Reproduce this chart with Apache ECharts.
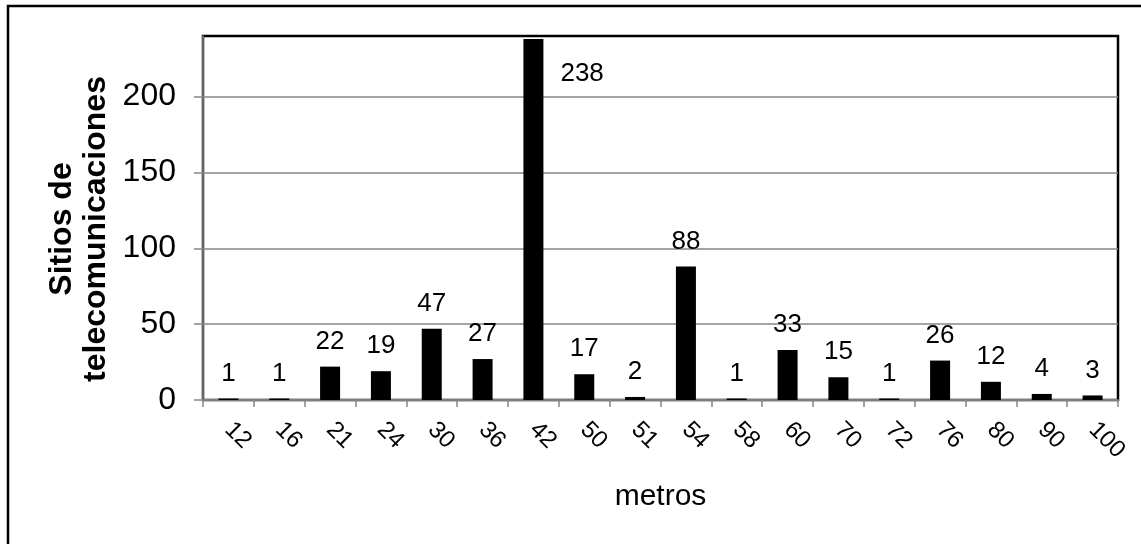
<!DOCTYPE html>
<html>
<head>
<meta charset="utf-8">
<script src="https://cdn.jsdelivr.net/npm/echarts@6/dist/echarts.min.js"></script>
<style>
  html, body { margin: 0; padding: 0; background: #fff; }
  #chart { width: 1141px; height: 544px; }
</style>
</head>
<body>
<div id="chart"></div>
<script>
// Altura de torre (metros) y número de sitios de telecomunicaciones
const alturas = ['12', '16', '21', '24', '30', '36', '42', '50', '51', '54', '58', '60', '70', '72', '76', '80', '90', '100'];
const sitios = [1, 1, 22, 19, 47, 27, 238, 17, 2, 88, 1, 33, 15, 1, 26, 12, 4, 3];
const marcasY = [0, 50, 100, 150, 200];

const FONT = "'Liberation Sans', Arial, sans-serif";
const GRIS = '#868686';

// The tallest bar keeps its label beside it, below its top-right corner
const maxIdx = sitios.indexOf(Math.max(...sitios));
const datos = sitios.map((v, i) => i === maxIdx
  ? { value: v, label: { position: [37, 35], align: 'left', verticalAlign: 'middle' } }
  : v);

const chart = echarts.init(document.getElementById('chart'), null, { renderer: 'canvas' });
chart.setOption({
  animation: false,
  backgroundColor: '#fff',
  grid: {
    left: 203, right: 23, top: 36, bottom: 144,
    show: true, borderColor: '#000', borderWidth: 2.5, backgroundColor: 'transparent'
  },
  xAxis: {
    type: 'category',
    data: alturas,
    axisLine: { lineStyle: { color: GRIS, width: 1.5 } },
    axisTick: { show: true, length: 7, lineStyle: { color: GRIS, width: 1.5 } },
    axisLabel: {
      rotate: -45, interval: 0, margin: 26,
      color: '#000', fontFamily: FONT, fontSize: 24
    },
    splitLine: { show: false }
  },
  yAxis: {
    type: 'value',
    min: 0, max: 240, interval: 50,
    axisLine: { show: true, lineStyle: { color: GRIS, width: 1.5 } },
    axisTick: { show: true, length: 9, customValues: marcasY, lineStyle: { color: GRIS, width: 1.5 } },
    axisLabel: {
      customValues: marcasY, margin: 27,
      color: '#000', fontFamily: FONT, fontSize: 32
    },
    splitLine: { show: true, lineStyle: { color: GRIS, width: 1.5 } }
  },
  series: [{
    type: 'bar',
    data: datos,
    barWidth: 20,
    itemStyle: { color: '#000' },
    label: {
      show: true, position: 'top', distance: 12,
      color: '#000', fontFamily: FONT, fontSize: 26
    }
  }],
  graphic: [
    {
      type: 'rect', silent: true, z: 100,
      shape: { x: 8, y: 6, width: 1400, height: 800 },
      style: { fill: 'none', stroke: '#000', lineWidth: 2.5 }
    },
    {
      type: 'text', silent: true,
      x: 79, y: 229, rotation: Math.PI / 2,
      style: {
        text: 'Sitios de\ntelecomunicaciones',
        fill: '#000', font: "bold 32px 'Liberation Sans', Arial, sans-serif",
        lineHeight: 34, align: 'center', verticalAlign: 'middle'
      }
    },
    {
      type: 'text', silent: true,
      x: 660.5, y: 497,
      style: {
        text: 'metros',
        fill: '#000', font: "30px 'Liberation Sans', Arial, sans-serif",
        align: 'center', verticalAlign: 'middle'
      }
    }
  ]
});
</script>
</body>
</html>
